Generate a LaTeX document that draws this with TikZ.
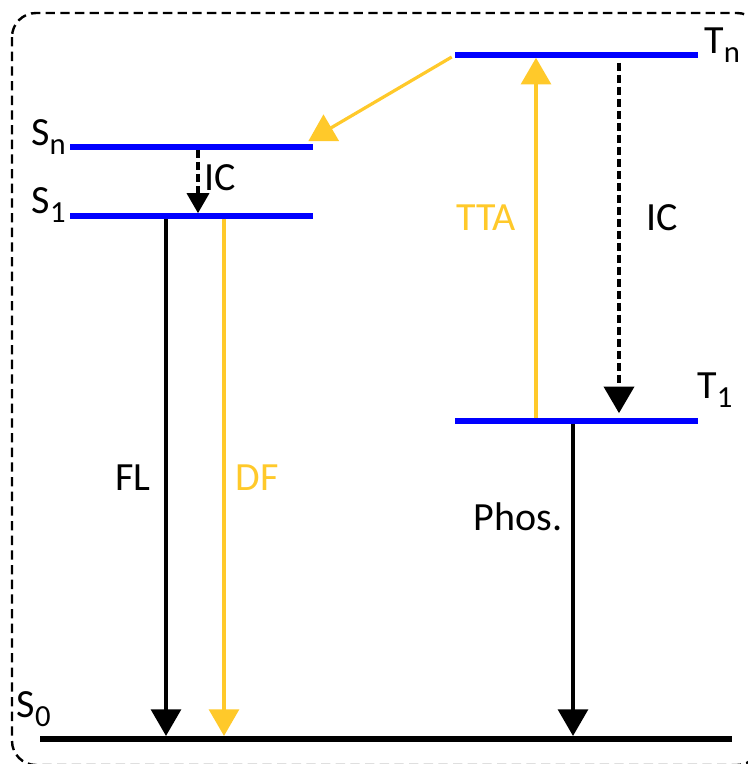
\documentclass[tikz,border=0pt]{standalone}
\usepackage{fontspec}
\setmainfont{Carlito}
\usetikzlibrary{arrows.meta,positioning,calc}
\definecolor{lvlblue}{HTML}{0000FF}
\definecolor{gold}{HTML}{FFC92A}
\newcommand{\lvlname}[2]{#1\raisebox{-7pt}{\fontsize{23}{26}\selectfont #2}}

\begin{document}
\begin{tikzpicture}[x=0.75pt, y=-0.75pt,
    font=\fontsize{30}{36}\selectfont,
    level/.style={fill=lvlblue, inner sep=0pt, minimum height=3.8pt, minimum width=182.25pt},
    ground/.style={fill=black, inner sep=0pt, minimum height=4.2pt, minimum width=519pt},
    lbl/.style={inner sep=0pt},
    frame/.style={line width=1.8pt, dash pattern=on 7pt off 4pt, rounded corners=18pt},
    decay/.style={line width=2.4pt, -{Triangle[length=20pt, width=22.5pt]}},
    icarr/.style={line width=3pt, dash pattern=on 6pt off 3pt, -{Triangle[length=20pt, width=22.5pt]}}]
  \useasboundingbox (0,0) rectangle (747,764);
  \draw[frame] (12,13) rectangle (761,765);

  % energy levels
  \node[level] (tn) at (576.5,55) {};
  \node[level] (sn) at (191.5,147) {};
  \node[level] (s1) at (191,216) {};
  \node[level] (t1) at (576.5,421) {};
  \node[ground] (s0) at (386,739) {};

  \node[lbl, anchor=base east] (lblsn) at (66,145) {\lvlname{S}{n}};
  \node[lbl, anchor=base east] (lbls1) at (66,213) {\lvlname{S}{1}};
  \node[lbl, anchor=base east] (lbls0) at (51,717) {\lvlname{S}{0}};
  \node[lbl, anchor=base west] (lbltn) at (704,53) {\lvlname{T}{n}};
  \node[lbl, anchor=base west] (lblt1) at (697,398) {\lvlname{T}{1}};

  % x positions of the transitions
  \coordinate (icx) at (198,0);
  \coordinate (flx) at (166,0);
  \coordinate (dfx) at (224,0);
  \coordinate (ttax) at (536,0);
  \coordinate (ictx) at (619,0);
  \coordinate (phx) at (573,0);

  % transitions
  \draw[icarr, line width=2.6pt, -{Triangle[length=15pt, width=16.5pt]}] (sn.south -| icx) -- (s1.north -| icx);
  \draw[decay] (s1.south -| flx) -- (s0.north -| flx);
  \draw[decay, gold] (s1.south -| dfx) -- (s0.north -| dfx);
  \draw[decay, gold] (t1.north -| ttax) -- (tn.south -| ttax);
  \draw[icarr] ($(tn.south -| ictx)+(0,5)$) -- ($(t1.north -| ictx)+(0,-5)$);
  \draw[decay] (t1.south -| phx) -- (s0.north -| phx);
  \draw[decay, gold] ($(tn.west)+(-3,2)$) -- ($(sn.north east)+(-5,-3)$);

  \node[lbl, anchor=base west] (lblic) at (204,190) {IC};
  \node[lbl, anchor=base] (lblfl) at (133,490) {FL};
  \node[lbl, anchor=base, text=gold] (lbldf) at (257,490) {DF};
  \node[lbl, anchor=base, text=gold] (lbltta) at (486,230) {TTA};
  \node[lbl, anchor=base] (lblict) at (662,230) {IC};
  \node[lbl, anchor=base] (lblph) at (518,530) {Phos.};
\end{tikzpicture}
\end{document}
